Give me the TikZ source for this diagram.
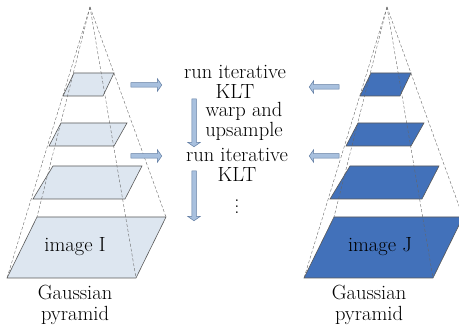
\documentclass[tikz,border=0pt]{standalone}
\usetikzlibrary{shapes.arrows}
\usetikzlibrary{positioning}

\definecolor{layerlight}{RGB}{221,230,240}
\definecolor{layerdark}{RGB}{66,113,186}
\definecolor{arrowfill}{RGB}{168,192,222}
\definecolor{arrowedge}{RGB}{96,124,162}

\begin{document}
\begin{tikzpicture}[
    x=1pt, y=-1pt,
    every node/.style={font=\fontsize{20.5}{20.5}\selectfont, align=center, inner sep=0pt},
    layer/.style={draw=black!65, line width=0.6pt},
    guide/.style={draw=black!60, line width=0.4pt, dash pattern=on 3pt off 2pt},
    flowarrow/.style={single arrow, draw=arrowedge, fill=arrowfill, line width=0.5pt,
      inner sep=2pt, minimum width=12pt, single arrow head extend=4pt,
      single arrow tip angle=110}]

    \useasboundingbox (0,0) rectangle (459,328);

    % the two pyramids, same shape, shifted
    \foreach \dx/\col in {0/layerlight, 297/layerdark} {
      \begin{scope}[xshift=\dx pt]
        \foreach \ty/\by/\tl/\tr/\bl/\br in
          {73/96/74/114/63/103, 123/146/61/127/49/114,
           166/199/53/142/33/125, 217/278/37/166/7/136} {
          \filldraw [layer, fill=\col] (\tl, \ty) -- (\tr, \ty)
          -- (\br, \by) -- (\bl, \by) -- cycle;
        }
        \coordinate (apex) at (90, 7);
        \foreach \c in {(7,278), (37,217), (166,217), (136,278)}
          \draw [guide] (apex) -- \c;
      \end{scope}
    }

    \node (imgI) at (75, 247) {image I};
    \node (imgJ) at (380, 247) {image J};
    \node [anchor=north] (gaussI) at (75, 285) {Gaussian\\pyramid};
    \node [anchor=north] (gaussJ) at (369, 285) {Gaussian\\pyramid};

    % middle column (base = last line)
    \node [anchor=base] (klt1) at (235, 99) {run iterative\\KLT};
    \node [anchor=base] (warp) at (244, 137) {warp and\\upsample};
    \node [anchor=base] (klt2) at (237, 182) {run iterative\\KLT};
    \node [anchor=base, font=\fontsize{20.5}{6}\selectfont] (dots) at (237, 214) {.\\.\\.};

    \node [flowarrow, minimum height=31pt] (inI1) at (145.5, 85) {};
    \node [flowarrow, minimum height=31pt] (inI2) at (145.5, 156) {};
    \node [flowarrow, minimum height=30pt, rotate=180] (inJ1) at (325, 87) {};
    \node [flowarrow, minimum height=30pt, rotate=180] (inJ2) at (325, 156) {};
    \node [flowarrow, minimum height=48pt, rotate=-90] (down1) at (194, 122) {};
    \node [flowarrow, minimum height=50pt, rotate=-90] (down2) at (194, 195) {};

  \end{tikzpicture}
\end{document}
